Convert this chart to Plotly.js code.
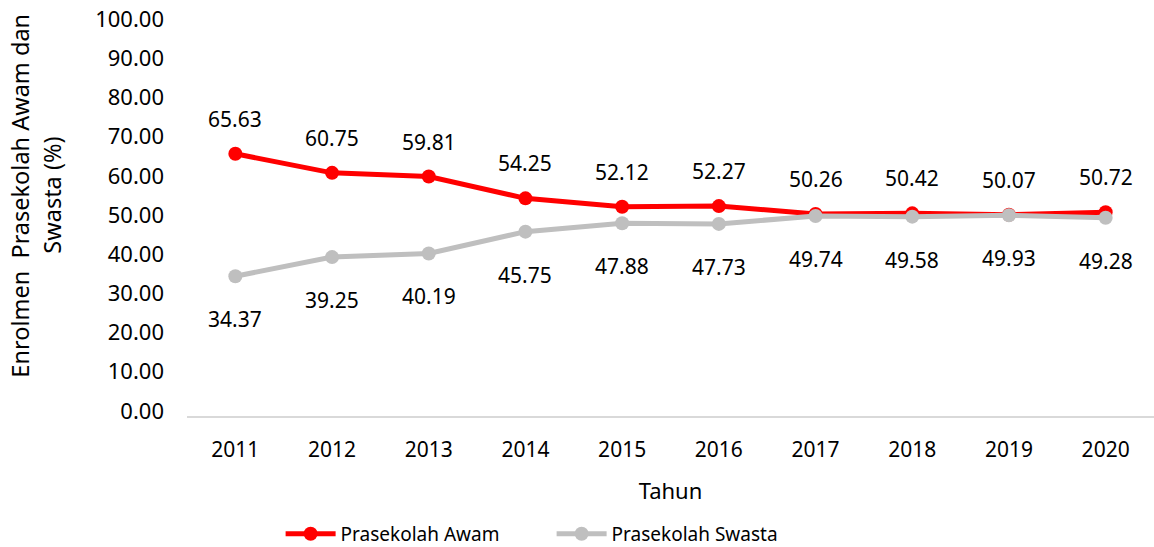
<!DOCTYPE html>
<html>
<head>
<meta charset="utf-8">
<script src="https://cdn.plot.ly/plotly-3.0.1.min.js"></script>
<style>html,body{margin:0;padding:0;background:#fff}#chart{width:1154px;height:547px}</style>
</head>
<body>
<div id="chart"></div>
<script>
const years = ["2011","2012","2013","2014","2015","2016","2017","2018","2019","2020"];
const awam = [65.63, 60.75, 59.81, 54.25, 52.12, 52.27, 50.26, 50.42, 50.07, 50.72];
const swasta = [34.37, 39.25, 40.19, 45.75, 47.88, 47.73, 49.74, 49.58, 49.93, 49.28];
const yTicks = [0,10,20,30,40,50,60,70,80,90,100];
const yTitleLines = ["Enrolmen  Prasekolah Awam dan", "Swasta (%)"];

const FONT = "Noto Sans, Open Sans, sans-serif";
const traces = [
  {x: years, y: awam, name: "Prasekolah Awam", mode: "lines+markers",
   line: {color: "#ff0000", width: 5}, marker: {color: "#ff0000", size: 14}},
  {x: years, y: swasta, name: "Prasekolah Swasta", mode: "lines+markers",
   line: {color: "#bfbfbf", width: 5}, marker: {color: "#bfbfbf", size: 14}}
];
const annotations = [];
years.forEach((yr, i) => {
  annotations.push({x: i, y: awam[i], xref: "x", yref: "y", text: awam[i].toFixed(2), showarrow: false, yshift: 35,
    font: {family: FONT, size: 21, color: "#000"}});
  annotations.push({x: i, y: swasta[i], xref: "x", yref: "y", text: swasta[i].toFixed(2), showarrow: false, yshift: -43,
    font: {family: FONT, size: 21, color: "#000"}});
});
const titleX = [-0.1727, -0.1396];
yTitleLines.forEach((t, k) => {
  annotations.push({text: t, xref: "paper", yref: "paper", x: titleX[k], y: 0.555, xanchor: "center", yanchor: "middle",
    textangle: -90, showarrow: false, font: {family: FONT, size: 23.5, color: "#000"}});
});
const layout = {
  width: 1154, height: 547,
  margin: {l: 187, r: 0, t: 19, b: 131},
  paper_bgcolor: "#fff", plot_bgcolor: "#fff",
  font: {family: FONT, size: 20, color: "#000"},
  showlegend: true,
  legend: {orientation: "h", x: 0.478, xanchor: "center", xref: "container", y: 0.024, yref: "container", yanchor: "middle",
    font: {family: FONT, size: 19, color: "#000"}, itemwidth: 50, entrywidth: 206, tracegroupgap: 0},
  xaxis: {type: "category", range: [-0.5, 9.5], showgrid: false, zeroline: false,
    showline: true, linecolor: "#d9d9d9", linewidth: 1.5, ticks: "", ticklen: 0, ticklabelstandoff: 14,
    tickfont: {family: FONT, size: 21, color: "#000"},
    title: {text: "Tahun", font: {family: FONT, size: 22, color: "#000"}, standoff: 22}},
  yaxis: {range: [-1.3, 100.02], tickvals: yTicks, ticktext: yTicks.map(v => v.toFixed(2)),
    showgrid: false, zeroline: false, showline: false, ticks: "", ticklen: 0, ticklabelstandoff: 22,
    tickfont: {family: FONT, size: 22, color: "#000"}},
  annotations: annotations
};
Plotly.newPlot("chart", traces, layout, {displayModeBar: false, staticPlot: true});
</script>
</body>
</html>
